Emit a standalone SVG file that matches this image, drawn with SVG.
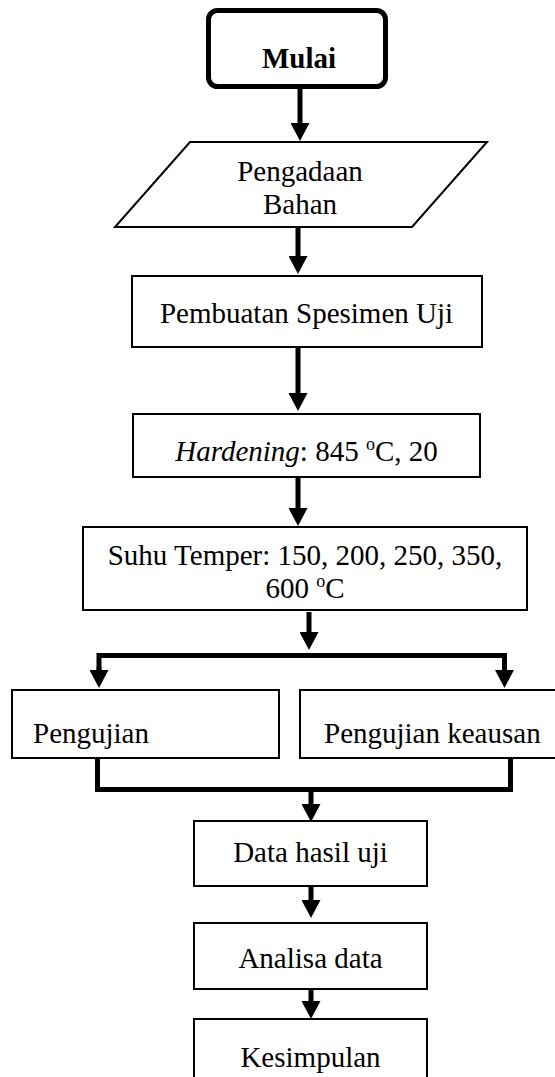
<svg xmlns="http://www.w3.org/2000/svg" width="555" height="1077" viewBox="0 0 555 1077">
<style>
text{font-family:"Liberation Serif","Times New Roman",serif;font-size:29px;fill:#000}
.c{text-anchor:middle}
.box{fill:#fff;stroke:#000;stroke-width:2}
.conn{fill:none;stroke:#000;stroke-width:5}
</style>
<defs>
<marker id="ah" markerUnits="userSpaceOnUse" markerWidth="18" markerHeight="19" refX="0" refY="9.5" orient="auto">
<path d="M0,0 L18,9.5 L0,19 z" fill="#000"/>
</marker>
</defs>
<rect width="555" height="1077" fill="#fff"/>

<g id="mulai">
<rect x="208.5" y="10.5" width="177" height="76" rx="9" fill="#fff" stroke="#000" stroke-width="5"/>
<text class="c" x="299" y="68" font-weight="bold">Mulai</text>
</g>

<g id="pengadaan">
<polygon class="box" points="190,142 487,142 412,227 115,227"/>
<text class="c" x="300" y="181">Pengadaan</text>
<text class="c" x="300" y="214">Bahan</text>
</g>

<g id="pembuatan">
<rect class="box" x="132" y="276" width="350" height="71"/>
<text class="c" x="306.5" y="323">Pembuatan Spesimen Uji</text>
</g>

<g id="hardening">
<rect class="box" x="133" y="414" width="347" height="63"/>
<text class="c" x="306.5" y="461"><tspan font-style="italic">Hardening</tspan>: 845 <tspan font-size="18" dy="-11">o</tspan><tspan dy="11">C, 20</tspan></text>
</g>

<g id="suhu">
<rect class="box" x="83" y="527" width="444" height="83"/>
<text class="c" x="305" y="565">Suhu Temper: 150, 200, 250, 350,</text>
<text class="c" x="305" y="598">600 <tspan font-size="18" dy="-11">o</tspan><tspan dy="11">C</tspan></text>
</g>

<g id="pengujian">
<rect class="box" x="12" y="690" width="267" height="68"/>
<text x="33" y="743">Pengujian</text>
</g>

<g id="keausan">
<rect class="box" x="300" y="690" width="257" height="68"/>
<text x="324" y="743">Pengujian keausan</text>
</g>

<g id="data">
<rect class="box" x="194" y="821" width="233" height="65"/>
<text class="c" x="310.5" y="862">Data hasil uji</text>
</g>

<g id="analisa">
<rect class="box" x="194" y="923" width="233" height="66"/>
<text class="c" x="310.5" y="968">Analisa data</text>
</g>

<g id="kesimpulan">
<rect class="box" x="194" y="1019" width="233" height="70"/>
<text class="c" x="310.5" y="1067">Kesimpulan</text>
</g>

<g id="connectors">
<path class="conn" d="M300,88 V123" marker-end="url(#ah)"/>
<path class="conn" d="M298,227 V256" marker-end="url(#ah)"/>
<path class="conn" d="M298,347 V393" marker-end="url(#ah)"/>
<path class="conn" d="M298,477 V508" marker-end="url(#ah)"/>
<path class="conn" d="M309,612 V632" marker-end="url(#ah)"/>
<path class="conn" d="M99,670 V655.5 H504.5 V670"/>
<path class="conn" d="M99,667 V670" marker-end="url(#ah)"/>
<path class="conn" d="M504.5,667 V670" marker-end="url(#ah)"/>
<path class="conn" d="M97.5,758 V789.5 H510.5 V758"/>
<path class="conn" d="M311,789 V804" marker-end="url(#ah)"/>
<path class="conn" d="M311,886 V900" marker-end="url(#ah)"/>
<path class="conn" d="M311,989 V1001" marker-end="url(#ah)"/>
</g>
</svg>
